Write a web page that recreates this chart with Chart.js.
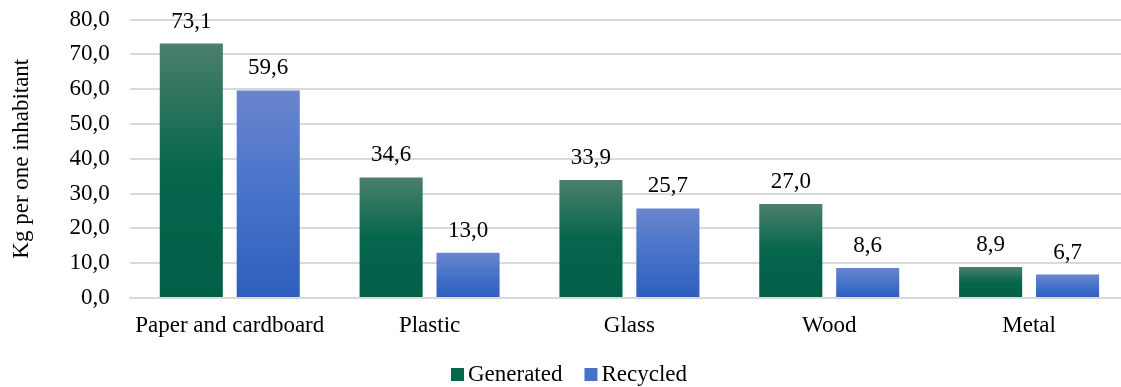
<!DOCTYPE html>
<html>
<head>
<meta charset="utf-8">
<script src="https://cdn.jsdelivr.net/npm/chart.js@4/dist/chart.umd.min.js"></script>
<style>
  html, body { margin: 0; padding: 0; background: #fff; overflow: hidden; }
  #wrap { width: 1129px; height: 387px; position: relative; }
</style>
</head>
<body>
<div id="wrap"><canvas id="c"></canvas></div>
<script>
const categories = ['Paper and cardboard', 'Plastic', 'Glass', 'Wood', 'Metal'];
const generated = [73.1, 34.6, 33.9, 27.0, 8.9];
const recycled = [59.6, 13.0, 25.7, 8.6, 6.7];
const seriesNames = ['Generated', 'Recycled'];
const yTicks = [0, 10, 20, 30, 40, 50, 60, 70, 80];

const FONT = '"Liberation Serif", "Times New Roman", serif';
const FSIZE = 23;
const fmt = v => v.toFixed(1).replace('.', ',');

// Vertical gradient per bar: lighter at the top, deep colour from the middle down
function barGradient(stops) {
  return function (ctx) {
    const chart = ctx.chart;
    if (!chart.chartArea || ctx.type !== 'data') return stops[stops.length - 1][1];
    const ys = chart.scales.y;
    const top = ys.getPixelForValue(ctx.raw);
    const base = ys.getPixelForValue(0);
    const g = chart.ctx.createLinearGradient(0, top, 0, base);
    stops.forEach(s => g.addColorStop(s[0], s[1]));
    return g;
  };
}

const greenStops = [[0, '#4b7f6b'], [0.5, '#05664c'], [1, '#045f47']];
const blueStops = [[0, '#6a85cd'], [0.5, '#4673c9'], [1, '#2e5ebd']];
const legendColors = ['#05664c', '#4673c9'];

// Value labels above each bar
const valueLabels = {
  id: 'valueLabels',
  afterDatasetsDraw(chart) {
    const c = chart.ctx;
    c.save();
    c.font = FSIZE + 'px ' + FONT;
    c.fillStyle = '#000';
    c.textAlign = 'center';
    c.textBaseline = 'alphabetic';
    chart.data.datasets.forEach((ds, i) => {
      chart.getDatasetMeta(i).data.forEach((bar, j) => {
        c.fillText(fmt(ds.data[j]), bar.x, bar.y - 16);
      });
    });
    c.restore();
  }
};

// Compact legend below the axis: small square, tight gap, then the series name
const bottomLegend = {
  id: 'bottomLegend',
  afterDraw(chart) {
    const c = chart.ctx;
    c.save();
    c.font = FSIZE + 'px ' + FONT;
    c.textBaseline = 'alphabetic';
    c.textAlign = 'left';
    const box = 13, gap = 4, spacing = 22;
    const items = chart.data.datasets.map((ds, i) => ({ text: ds.label, color: legendColors[i], w: c.measureText(ds.label).width }));
    const total = items.reduce((s, it) => s + box + gap + it.w, 0) + spacing * (items.length - 1);
    let x = 569 - total / 2;
    const baseline = 381;
    items.forEach(it => {
      c.fillStyle = it.color;
      c.fillRect(x, baseline - box, box, box);
      c.fillStyle = '#000';
      c.fillText(it.text, x + box + gap, baseline);
      x += box + gap + it.w + spacing;
    });
    c.restore();
  }
};

new Chart(document.getElementById('c'), {
  type: 'bar',
  data: {
    labels: categories,
    datasets: [
      { label: seriesNames[0], data: generated, backgroundColor: barGradient(greenStops) },
      { label: seriesNames[1], data: recycled, backgroundColor: barGradient(blueStops) }
    ]
  },
  options: {
    responsive: true,
    maintainAspectRatio: false,
    animation: false,
    devicePixelRatio: 1,
    layout: { padding: { top: 19.5, right: 0, bottom: 33.5, left: 8 } },
    datasets: { bar: { categoryPercentage: 0.77, barPercentage: 0.82 } },
    scales: {
      x: {
        grid: { display: false, drawTicks: false },
        border: { display: true, color: '#d9d9d9', width: 2 },
        ticks: { color: '#000', font: { family: FONT, size: FSIZE }, padding: 14, maxRotation: 0 }
      },
      y: {
        min: 0, max: 80,
        afterBuildTicks: axis => { axis.ticks = yTicks.map(v => ({ value: v })); },
        afterFit: s => { s.paddingTop = 0; s.paddingBottom = 0; },
        grid: { color: '#d9d9d9', lineWidth: 2, drawTicks: false },
        border: { display: false },
        ticks: { color: '#000', font: { family: FONT, size: FSIZE }, padding: 20, callback: v => fmt(v) },
        title: { display: true, text: 'Kg per one inhabitant', color: '#000', font: { family: FONT, size: 23 }, padding: { top: 0, bottom: 14 } }
      }
    },
    plugins: {
      legend: { display: false },
      tooltip: { enabled: false }
    }
  },
  plugins: [valueLabels, bottomLegend]
});
</script>
</body>
</html>
